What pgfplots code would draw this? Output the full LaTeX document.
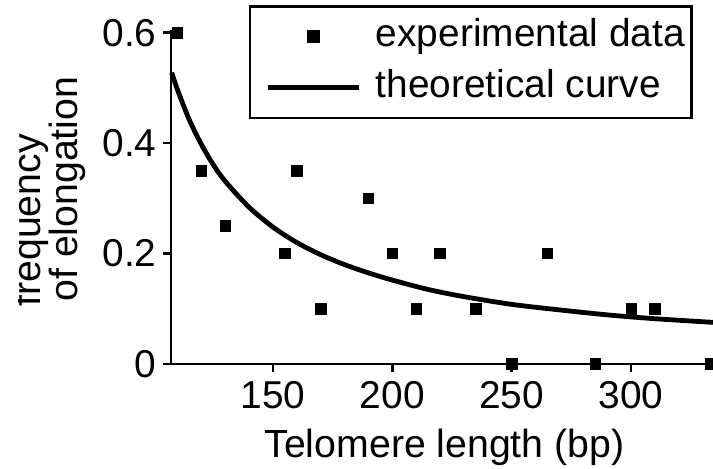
\documentclass[border=0pt]{standalone}
\usepackage{fontspec}
\setmainfont{Liberation Sans}
\usepackage{pgfplots}
\pgfplotsset{compat=1.18}

\begin{document}
\begin{tikzpicture}
\begin{axis}[
  at={(0,0)}, anchor=south west,
  scale only axis, width=271bp, height=167bp,
  xmin=107.3, xmax=334.3, ymin=0, ymax=0.605,
  axis lines*=left,
  axis line style={line width=1.3bp, black},
  xtick={150,200,250,300},
  ytick={0,0.2,0.4,0.6},
  tick align=outside,
  major tick length=4bp,
  tick style={line width=1.3bp, black},
  /pgf/number format/assume math mode=true,
  xticklabel style={font=\fontsize{19.5}{20}\selectfont, inner sep=0pt, anchor=north, yshift=-4.5bp},
  yticklabel style={font=\fontsize{19.5}{20}\selectfont, inner sep=0pt, anchor=east, xshift=-3bp},
  clip=false,
  legend image code/.code={%
    \path (0bp,0bp) (57bp,0bp);
    \draw[mark repeat=2,mark phase=2,#1] plot coordinates {(4.5bp,0bp) (27.25bp,0bp) (50bp,0bp)};},
  legend style={
    at={(1,1)}, anchor=north east, xshift=-10bp, yshift=12.5bp,
    draw=black, line width=1.3bp,
    font=\fontsize{19.5}{22}\selectfont,
    inner xsep=3.5bp, inner ysep=6bp,
    row sep=7.3bp, column sep=0pt,
    cells={anchor=west},
    nodes={inner sep=0pt, text height=14.2bp, text depth=4.1bp},
    /tikz/every even column/.append style={column sep=0pt},
    /tikz/every odd column/.append style={column sep=0pt},
  },
]
\addplot[only marks, mark=square*, mark size=2.6bp, black] coordinates {
  (110,0.6) (120,0.35) (130,0.25) (155,0.2) (160,0.35) (170,0.1)
  (190,0.3) (200,0.2) (210,0.1) (220,0.2) (235,0.1) (250,0)
  (265,0.2) (285,0) (300,0.1) (310,0.1) (333.5,0)
};
\addlegendentry{experimental data}
\addplot[black, line width=2.4bp, smooth, mark=none] coordinates {
  (107.6,0.528) (110,0.497) (115,0.442) (120,0.398) (125,0.361)
  (130,0.331) (140,0.284) (150,0.248) (160,0.220) (170,0.198)
  (180,0.180) (190,0.165) (200,0.152) (215,0.135) (230,0.122)
  (250,0.108) (270,0.098) (290,0.089) (310,0.082) (336,0.075)
};
\addlegendentry{theoretical curve}
\end{axis}
\node[anchor=base, inner sep=0pt, font=\fontsize{19.7}{22}\selectfont] at (136.75bp,-46.5bp) {Telomere length (bp)};
\begin{scope}
  \clip (-76bp,-52.5bp) rectangle (0bp,182bp);
  \node[rotate=90, anchor=base west, inner sep=0pt, font=\fontsize{19.7}{22}\selectfont] at (-65bp,28.5bp) {frequency};
  \node[rotate=90, anchor=base west, inner sep=0pt, font=\fontsize{19.7}{22}\selectfont] at (-46.5bp,31bp) {of elongation};
\end{scope}
\pgfresetboundingbox
\useasboundingbox (-85.5bp,-52.5bp) rectangle (271bp,182bp);
\end{tikzpicture}
\end{document}
